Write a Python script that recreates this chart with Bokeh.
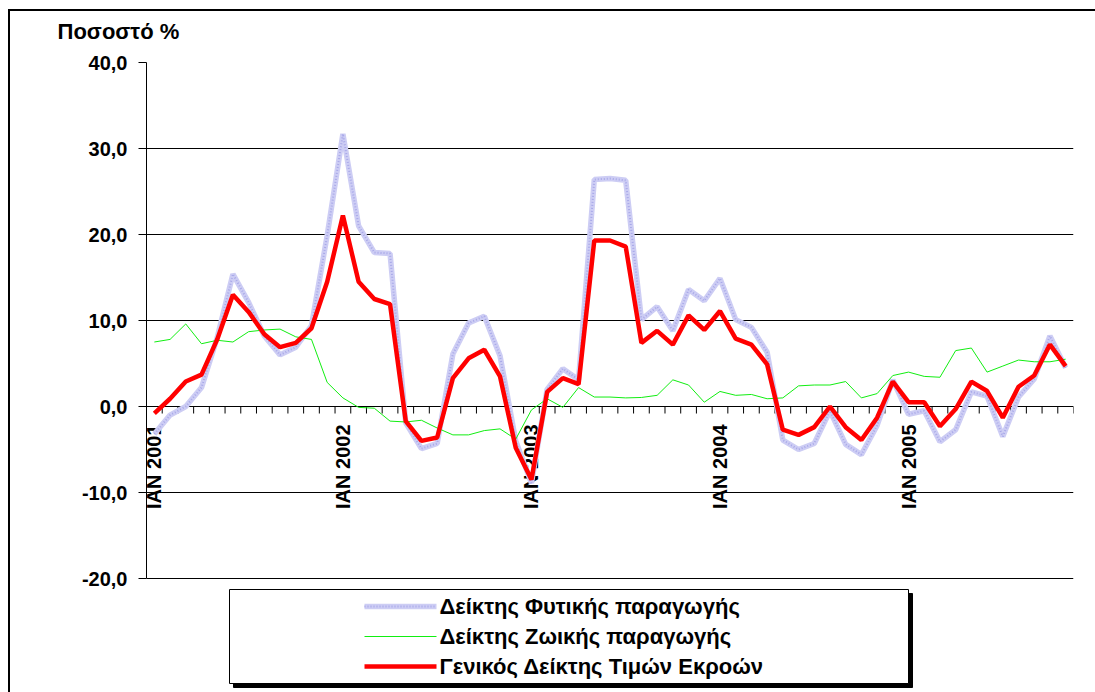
import math
from bokeh.plotting import figure
from bokeh.models import Range1d, FixedTicker
from bokeh.core.properties import value
from bokeh.embed import file_html
from bokeh.resources import INLINE

# ---- data (monthly, Jan 2001 - Nov 2005) ----
gr_months = ["IAN", "ΦΕΒ", "ΜΑΡ", "ΑΠΡ", "ΜΑΪ", "ΙΟΥΝ", "ΙΟΥΛ", "ΑΥΓ", "ΣΕΠ", "ΟΚΤ", "ΝΟΕ", "ΔΕΚ"]
years = [2001, 2002, 2003, 2004, 2005]
months = [f"{m} {y}" for y in years for m in gr_months][:59]

plant_index = [-3.2, -1.0, 0.0, 2.2, 8.0, 15.4, 12.1, 8.2, 6.0, 6.9,
               9.4, 19.9, 31.7, 21.0, 17.9, 17.8, -1.9, -4.9, -4.3, 6.1,
               9.7, 10.5, 5.9, -4.0, -8.9, 2.0, 4.4, 3.1, 26.4, 26.5,
               26.3, 10.1, 11.6, 8.8, 13.6, 12.3, 14.9, 10.1, 9.2, 6.3,
               -3.9, -5.0, -4.3, -0.5, -4.4, -5.6, -2.2, 3.1, -0.9, -0.5,
               -4.1, -2.7, 1.7, 1.2, -3.5, 1.1, 3.2, 8.2, 4.5]
animal_index = [7.5, 7.8, 9.6, 7.3, 7.7, 7.5, 8.7, 8.9, 9.0, 8.1,
                7.8, 2.8, 1.0, -0.1, -0.2, -1.7, -1.8, -1.6, -2.5, -3.3,
                -3.3, -2.8, -2.6, -3.8, -0.4, 0.9, -0.1, 2.2, 1.1, 1.1,
                1.0, 1.05, 1.3, 3.1, 2.5, 0.5, 1.75, 1.3, 1.4, 0.9,
                1.0, 2.4, 2.5, 2.5, 2.9, 1.0, 1.5, 3.6, 4.0, 3.5,
                3.4, 6.5, 6.8, 4.0, 4.7, 5.4, 5.2, 5.2, 5.5]
general_index = [-0.8, 0.9, 2.9, 3.7, 7.8, 13.0, 11.0, 8.4, 6.9, 7.4,
                 9.1, 14.5, 22.2, 14.5, 12.5, 11.9, -1.7, -4.0, -3.6, 3.3,
                 5.6, 6.6, 3.5, -4.8, -8.5, 1.7, 3.3, 2.6, 19.3, 19.3,
                 18.6, 7.4, 8.8, 7.2, 10.6, 8.9, 11.1, 7.9, 7.2, 4.9,
                 -2.7, -3.3, -2.4, 0.0, -2.4, -3.9, -1.3, 2.9, 0.5, 0.5,
                 -2.3, -0.3, 2.9, 1.8, -1.3, 2.3, 3.6, 7.2, 4.7]

y_ticks = [-20, -10, 0, 10, 20, 30, 40]
y_tick_labels = {t: f"{t:.1f}".replace(".", ",") for t in y_ticks}
year_pos = [i for i, m in enumerate(months) if m.startswith("IAN")]
year_labels = [months[i] for i in year_pos]

series_names = ["Δείκτης Φυτικής παραγωγής", "Δείκτης Ζωικής παραγωγής", "Γενικός Δείκτης Τιμών Εκροών"]

FONT = "Liberation Sans"
idx = list(range(len(months)))
n = len(months)

# ---- layout (page pixels, canvas at page origin) ----
W, H = 1095, 692
PL, PR, PT, PB = 146, 1073, 62, 578   # plot area of the value axis
ppu_y = (PB - PT) / (y_ticks[-1] - y_ticks[0])
ppu_x = (PR - PL) / n
y_min = y_ticks[0] - (H - PB) / ppu_y


def px2x(px):
    return -0.5 + (px - PL) / ppu_x


def py2y(py):
    return y_ticks[-1] - (py - PT) / ppu_y


p = figure(width=W, height=H, output_backend="svg", toolbar_location=None,
           x_range=Range1d(-0.5, n - 0.5), y_range=Range1d(y_min, y_ticks[-1]),
           x_axis_location=None,
           min_border_left=PL, min_border_right=W - PR, min_border_top=PT, min_border_bottom=0,
           title="Ποσοστό %")
# outer chart-area border (left and top edges visible), drawn behind a transparent canvas border
p.styles = {"background": "linear-gradient(#000,#000) 8px 9px / 2px 100% no-repeat, "
                          "linear-gradient(#000,#000) 8px 9px / 100% 2px no-repeat, #ffffff"}
p.outline_line_color = None
p.background_fill_color = "white"
p.border_fill_alpha = 0

p.title.text_font = FONT
p.title.text_font_style = "bold"
p.title.text_font_size = "22px"
p.title.text_color = "black"
p.title.align = "left"
p.title.vertical_align = "middle"
p.title.offset = 57 - PL
p.title.standoff = 35

# y axis
p.yaxis.ticker = FixedTicker(ticks=y_ticks)
p.yaxis.bounds = (y_ticks[0], y_ticks[-1])
p.yaxis.major_label_overrides = y_tick_labels
p.yaxis.major_label_text_font = FONT
p.yaxis.major_label_text_font_style = "bold"
p.yaxis.major_label_text_font_size = "20px"
p.yaxis.major_label_text_color = "black"
p.yaxis.axis_line_color = "black"
p.yaxis.major_tick_line_color = "black"
p.yaxis.major_tick_out = 8
p.yaxis.major_tick_in = 0
p.yaxis.minor_tick_line_color = None
p.yaxis.major_label_standoff = 11

p.xgrid.visible = False
p.ygrid.ticker = FixedTicker(ticks=y_ticks)
p.ygrid.grid_line_color = "black"
p.ygrid.grid_line_width = 1

# category tick marks on the zero line
tick_len = 7 / ppu_y
bounds = [i + 0.5 for i in range(n)]
p.segment(x0=bounds, y0=[0] * n, x1=bounds, y1=[-tick_len] * n, line_color="black", line_width=1)

# year labels
p.text(x=year_pos, y=[0] * len(year_pos), text=year_labels, angle=math.pi / 2,
       text_align="right", text_baseline="middle", y_offset=18,
       text_font=value(FONT), text_font_style="bold", text_font_size="20px", text_color="black")

# series styles
BLUE_BASE = dict(line_color="#cdcdf4", line_width=5.5)
BLUE_DOTS = dict(line_color="#a8a8e8", line_width=2, line_dash="1 2")
GREEN = dict(line_color="#11ee11", line_width=1)
RED = dict(line_color="#ff0000", line_width=4.5)

p.line(idx, plant_index, **BLUE_BASE)
p.line(idx, plant_index, **BLUE_DOTS)
p.line(idx, animal_index, **GREEN)
p.line(idx, general_index, **RED)

# legend box with shadow
LX0, LX1, LY0, LY1 = 229, 908, 589, 683
SH = 4
p.quad(left=[px2x(LX0 + SH)], right=[px2x(LX1 + SH)], top=[py2y(LY0 + SH)], bottom=[py2y(LY1 + SH)],
       fill_color="black", line_color="black")
p.quad(left=[px2x(LX0)], right=[px2x(LX1)], top=[py2y(LY0)], bottom=[py2y(LY1)],
       fill_color="white", line_color="black", line_width=1)

# legend entries
rows = [py2y(606), py2y(636), py2y(666)]
gx0, gx1, tx = px2x(364), px2x(436), px2x(439)
for style_list, yrow in zip([[BLUE_BASE, BLUE_DOTS], [GREEN], [RED]], rows):
    for st in style_list:
        p.segment(x0=[gx0], y0=[yrow], x1=[gx1], y1=[yrow], **st)
p.text(x=[tx] * 3, y=rows, text=series_names, text_align="left", text_baseline="middle",
       text_font=value(FONT), text_font_style="bold", text_font_size="22px", text_color="black")

open("out.html", "w").write(file_html(p, INLINE))
